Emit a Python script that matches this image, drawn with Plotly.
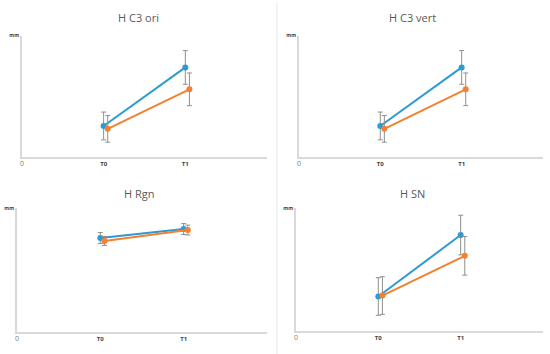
import plotly.graph_objects as go

# ---- data ----
titles = ["H C3 ori", "H C3 vert", "H Rgn", "H SN"]
tick_labels = ["0", "T0", "T1"]
tick_pos = [0, 1, 2]
time_x = [1, 2]

blue_vals = {
    "H C3 ori": [2.54, 7.38],
    "H C3 vert": [2.54, 7.38],
    "H Rgn": [7.6, 8.32],
    "H SN": [2.82, 7.82],
}
blue_err = {
    "H C3 ori": [1.15, 1.39],
    "H C3 vert": [1.15, 1.39],
    "H Rgn": [0.44, 0.44],
    "H SN": [1.53, 1.61],
}
orange_vals = {
    "H C3 ori": [2.30, 5.57],
    "H C3 vert": [2.30, 5.57],
    "H Rgn": [7.36, 8.24],
    "H SN": [2.9, 6.13],
}
orange_err = {
    "H C3 ori": [1.1, 1.35],
    "H C3 vert": [1.1, 1.35],
    "H Rgn": [0.36, 0.4],
    "H SN": [1.53, 1.57],
}

# ---- layout / style ----
W, H = 550, 354
BLUE = "#2E9AD3"
ORANGE = "#F28130"
ERR = "#8f8f8f"
AXIS = "#d9d9d9"
OFFSET = 0.05

# panel boxes in pixels: (x0, x1, ytop, ybottom)
boxes = [(20, 266, 33, 155), (298, 543, 33, 155), (15, 266, 207, 332), (295, 543, 207, 331)]
title_pos = [(137, 15), (412, 15), (137, 192), (412, 192)]

fig = go.Figure()
annotations = []
for i, t in enumerate(titles):
    n = "" if i == 0 else str(i + 1)
    x0, x1, yt, yb = boxes[i]
    ticktext = ['<span style="color:#808080;font-size:7px">%s</span>' % tick_labels[0]] + \
               ["<b>%s</b>" % s for s in tick_labels[1:]]
    fig.update_layout(**{
        f"xaxis{n}": dict(domain=[x0 / W, x1 / W], range=[0, 3], anchor=f"y{n}",
                          tickvals=tick_pos, ticktext=ticktext,
                          tickfont=dict(size=6, color="#404040", family="Open Sans"),
                          showgrid=False, zeroline=False, showline=True, linecolor=AXIS,
                          linewidth=1.5, ticks="", fixedrange=True),
        f"yaxis{n}": dict(domain=[1 - yb / H, 1 - yt / H], range=[0, 10], anchor=f"x{n}",
                          tickvals=[10], ticktext=["<b>mm</b>"],
                          tickfont=dict(size=5, color="#404040", family="Open Sans"),
                          showgrid=False, zeroline=False, showline=True, linecolor=AXIS,
                          linewidth=1.5, ticks="", fixedrange=True),
    })
    xa, ya = f"x{n}", f"y{n}"
    fig.add_trace(go.Scatter(
        x=time_x, y=blue_vals[t], xaxis=xa, yaxis=ya, mode="lines+markers",
        line=dict(color=BLUE, width=2), marker=dict(color=BLUE, size=6),
        error_y=dict(type="data", array=blue_err[t], color=ERR, thickness=1, width=2.5),
        showlegend=False))
    fig.add_trace(go.Scatter(
        x=[v + OFFSET for v in time_x], y=orange_vals[t], xaxis=xa, yaxis=ya,
        mode="lines+markers",
        line=dict(color=ORANGE, width=2), marker=dict(color=ORANGE, size=6),
        error_y=dict(type="data", array=orange_err[t], color=ERR, thickness=1, width=2.5),
        showlegend=False))
    tx, ty = title_pos[i]
    annotations.append(dict(text=t, x=tx / W, y=1 - ty / H, xref="paper", yref="paper",
                            showarrow=False, xanchor="center", yanchor="middle",
                            font=dict(size=11, color="#595959", family="Open Sans")))

fig.update_layout(
    width=W, height=H, margin=dict(l=0, r=0, t=0, b=0),
    paper_bgcolor="white", plot_bgcolor="white",
    annotations=annotations,
    shapes=[dict(type="line", xref="paper", yref="paper", x0=276 / W, x1=276 / W, y0=0, y1=1,
                 line=dict(color="#e6e6e6", width=1))],
)

fig.write_html("out.html", config={"displayModeBar": False},
               post_script="document.body.style.margin='0';document.body.style.overflow='hidden';")
